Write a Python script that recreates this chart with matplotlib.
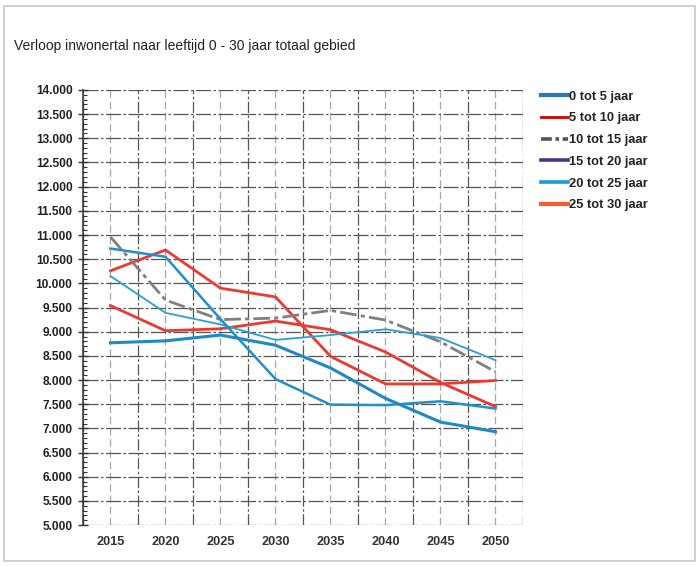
import matplotlib
matplotlib.use('Agg')
import matplotlib.pyplot as plt
from matplotlib.lines import Line2D
from matplotlib.patches import Rectangle
from matplotlib.ticker import FuncFormatter, MultipleLocator

plt.rcParams['font.family'] = ['Liberation Sans', 'DejaVu Sans']

years = ['2015', '2020', '2025', '2030', '2035', '2040', '2045', '2050']
labels = ['0 tot 5 jaar', '5 tot 10 jaar', '10 tot 15 jaar',
          '15 tot 20 jaar', '20 tot 25 jaar', '25 tot 30 jaar']

# waarden
age_0_5 = [8770, 8810, 8930, 8720, 8250, 7620, 7130, 6930]
age_5_10 = [9540, 9020, 9060, 9220, 9040, 8580, 7950, 7450]
age_10_15 = [10960, 9655, 9250, 9280, 9440, 9240, 8790, 8170]
age_15_20 = [10720, 10550, 9260, 8020, 7490, 7480, 7560, 7410]
age_20_25 = [10150, 9390, 9150, 8830, 8930, 9050, 8870, 8410]
age_25_30 = [10260, 10690, 9900, 9720, 8490, 7920, 7920, 7990]

fig = plt.figure(figsize=(6.99, 5.66), dpi=100)
fig.patches.append(Rectangle((0.006, 0.008), 0.988, 0.982, transform=fig.transFigure,
                             fill=False, edgecolor='#c8c8c8', lw=1.2))
fig.text(0.02, 0.919, 'Verloop inwonertal naar leeftijd 0 - 30 jaar totaal gebied',
         fontsize=10, color='#222222', va='center')

ax = fig.add_axes([0.1187, 0.0724, 0.6295, 0.7686])
x = list(range(len(years)))

# rasterlijnen
for k in range(len(years) + 1):
    ax.axvline(k - 0.5, color='#555555', lw=0.9, ls=(0, (9, 2, 2, 2)), zorder=1)
for k in range(len(years)):
    ax.axvline(k, color='#a8a8a8', lw=0.9, ls=(0, (6, 3)), zorder=1)
for v in range(5000, 14001, 500):
    ax.axhline(v, color='#555555', lw=0.9, ls=(0, (12, 2, 2, 2)), zorder=1)

ax.plot(x, age_25_30, color='#ee3a2e', lw=2.0, zorder=3)
ax.plot(x, age_5_10, color='#ea3a30', lw=2.0, zorder=3)
ax.plot(x, age_10_15, color='#808080', lw=2.0, ls=(0, (6, 1.5, 1.5, 1.5)), zorder=3)
ax.plot(x, age_20_25, color='#2a9fd8', lw=1.3, zorder=3)
ax.plot(x, age_15_20, color='#1f8fcf', lw=1.8, zorder=3)
ax.plot(x, age_0_5, color='#1f88c8', lw=2.2, zorder=3)

ax.set_xlim(-0.5, len(years) - 0.5)
ax.set_ylim(5000, 14000)
ax.set_xticks(x)
ax.set_xticklabels(years, fontsize=9.2, fontweight='bold', color='#333333')
ax.tick_params(axis='x', length=0, pad=8)
ax.yaxis.set_major_locator(MultipleLocator(500))
ax.yaxis.set_minor_locator(MultipleLocator(100))
ax.yaxis.set_major_formatter(FuncFormatter(lambda v, p: f'{int(v):,}'.replace(',', '.')))
ax.tick_params(axis='y', which='major', direction='inout', length=7, width=1,
               color='#333333', labelsize=8.6, labelcolor='#222222', pad=4)
ax.tick_params(axis='y', which='minor', direction='in', length=3, width=0.8, color='#333333')
for lbl in ax.get_yticklabels():
    lbl.set_fontweight('bold')

for side in ['top', 'right', 'bottom']:
    ax.spines[side].set_visible(False)
ax.spines['left'].set_color('#333333')
ax.spines['left'].set_linewidth(1.1)

handles = [
    Line2D([], [], color='#2e75b6', lw=3.0),
    Line2D([], [], color='#d40000', lw=2.0),
    Line2D([], [], color='#555555', lw=2.6, ls=(0, (3, 1, 1, 1))),
    Line2D([], [], color='#3c3a8a', lw=2.6),
    Line2D([], [], color='#1b9ad6', lw=2.6),
    Line2D([], [], color='#ff5a2d', lw=3.0),
]
leg = fig.legend(handles, labels, loc='upper left', bbox_to_anchor=(0.767, 0.849),
                 frameon=False, fontsize=9.3, handlelength=2.1, handletextpad=0.05,
                 labelspacing=0.75, borderaxespad=0)
for t in leg.get_texts():
    t.set_fontweight('bold')
    t.set_color('#222222')

fig.savefig('out.png', dpi=100)
